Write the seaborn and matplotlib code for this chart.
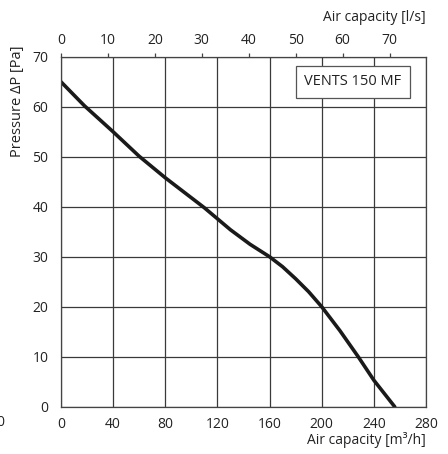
import matplotlib
matplotlib.use("Agg")
import matplotlib.pyplot as plt
import seaborn as sns
import pandas as pd

# Fan curve
airflow_m3h = [0, 18, 40, 60, 80, 95, 110, 130, 145, 160, 170, 180, 190, 200, 214, 228, 240, 256]
pressure_pa = [65, 60.2, 55, 50.1, 45.8, 42.8, 39.8, 35.4, 32.5, 30, 28, 25.6, 23, 20, 15.2, 10, 5.3, 0]

x_ticks = [0, 40, 80, 120, 160, 200, 240, 280]
y_ticks = [0, 10, 20, 30, 40, 50, 60, 70]
ls_ticks = [0, 10, 20, 30, 40, 50, 60, 70]
model_name = "VENTS 150 MF"

df = pd.DataFrame({"airflow": airflow_m3h, "pressure": pressure_pa})

sns.set_theme(style="white")
plt.rcParams["font.family"] = ["Open Sans", "DejaVu Sans"]

fig = plt.figure(figsize=(4.48, 4.54), dpi=100)
ax = fig.add_axes([0.136, 0.104, 0.815, 0.771])

sns.lineplot(data=df, x="airflow", y="pressure", color="#1a1a1a", linewidth=2.6, ax=ax)

ax.set_xlim(0, 280)
ax.set_ylim(0, 70)
ax.set_xticks(x_ticks)
ax.set_yticks(y_ticks)
ax.grid(True, color="#3a3a3a", linewidth=0.9)
for s in ax.spines.values():
    s.set_color("#444444")
    s.set_linewidth(0.9)
ax.tick_params(axis="x", direction="out", length=3, width=0.9, color="#444444",
               labelsize=10, pad=4, labelcolor="#222222")
ax.tick_params(axis="y", direction="inout", length=8, width=0.9, color="#444444",
               labelsize=10, pad=5, labelcolor="#222222")
ax.set_xlabel("Air capacity [m³/h]", fontsize=10, color="#222222", loc="right", labelpad=0)
ax.set_ylabel("Pressure ΔP [Pa]", fontsize=10.5, color="#222222")
ax.yaxis.set_label_coords(-0.098, 0.872)

# top axis in l/s
top = ax.secondary_xaxis("top", functions=(lambda v: v / 3.6, lambda v: v * 3.6))
top.set_xticks(ls_ticks)
top.tick_params(direction="out", length=3, width=0.9, color="#444444",
                labelsize=10, pad=3, labelcolor="#222222")
top.spines["top"].set_visible(False)
top.set_xlabel("Air capacity [l/s]", fontsize=10, color="#222222", loc="right", labelpad=9)

ax.text(224, 65, model_name, ha="center", va="center", fontsize=10.5, color="#222222",
        bbox=dict(boxstyle="square,pad=0.6", facecolor="white", edgecolor="#555555", linewidth=0.9))

fig.text(0.0, 1 - 423 / 454, "0", ha="center", va="center", fontsize=10, color="#222222")

fig.savefig("out.png", dpi=100)
